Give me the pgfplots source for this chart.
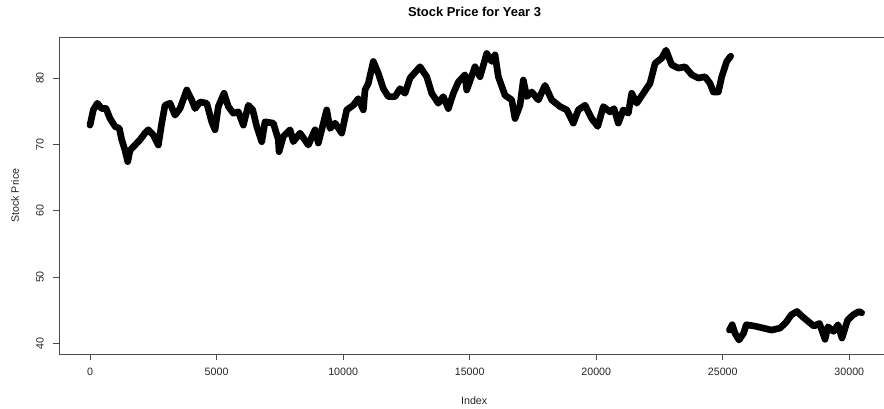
\documentclass[border=0pt]{standalone}
\usepackage{pgfplots}
\pgfplotsset{compat=1.18}
\usepackage{fontspec}
\setmainfont{Liberation Sans}
\begin{document}
\begin{tikzpicture}
\useasboundingbox (-44.5pt,-40.5pt) rectangle (618.5pt,265.5pt);
\begin{axis}[
  at={(0,0)}, anchor=south west,
  scale only axis, width=618.5pt, height=237.5pt,
  xmin=-1213, xmax=31371, ymin=38.39, ymax=86.14,
  axis x line=box, axis y line=left,
  axis line style={-, draw=black!70, line width=0.75pt},
  tick pos=left, tick align=outside, major tick length=4.5pt,
  tick style={black!70, line width=0.75pt},
  xtick={0,5000,10000,15000,20000,25000,30000},
  ytick={40,50,60,70,80},
  scaled x ticks=false,
  /pgf/number format/1000 sep={},
  /pgf/number format/assume math mode=true,
  ticklabel style={font=\fontsize{8}{9.6}\selectfont, text=black!85},
  xticklabel style={anchor=base, inner sep=0pt},
  xticklabel shift=11.5pt,
  yticklabel={\rotatebox{90}{\pgfmathprintnumber{\tick}}},
  yticklabel style={anchor=east, inner sep=0pt},
  yticklabel shift=7pt,
  xlabel={Index}, ylabel={Stock Price},
  label style={font=\fontsize{8}{9.6}\selectfont, text=black!85},
  xlabel style={at={(axis description cs:0.503,-0.1475)}, anchor=center},
  ylabel style={at={(axis description cs:-0.0537,0.5)}, anchor=center, rotate=0},
  title={Stock Price for Year 3},
  title style={font=\fontsize{9.7}{11}\selectfont\bfseries, at={(axis description cs:0.5035,1.0673)}, anchor=base, yshift=-6pt},
  clip=false,
]
\addplot[black, line width=5pt, line join=round, line cap=round] coordinates {
(0,72.9) (130,75.2) (288,76.2) (462,75.4) (632,75.4) (790,73.9) (988,72.7)
(1158,72.4) (1252,70.7) (1383,69.1) (1490,67.4) (1580,69.1) (1778,69.9)
(1976,70.7) (2173,71.7) (2303,72.2) (2501,71.4) (2699,69.9) (2833,73.2)
(2963,75.9) (3161,76.2) (3358,74.4) (3556,75.4) (3821,78.2) (4018,76.7)
(4149,75.4) (4346,76.4) (4611,76.2) (4808,73.4) (4939,72.2) (5069,75.7)
(5294,77.7) (5464,75.7) (5662,74.7) (5859,74.9) (6057,72.9) (6254,75.9)
(6428,75.2) (6586,72.7) (6784,70.4) (6914,73.4) (7242,73.2) (7440,70.7)
(7467,68.9) (7637,71.2) (7902,72.2) (8032,70.4) (8297,71.7) (8625,69.9)
(8890,72.2) (9020,70.2) (9352,75.2) (9482,72.4) (9680,73.2) (9945,71.7)
(10142,75.2) (10403,75.9) (10601,76.9) (10798,75.2) (10865,78.2) (10996,79.2)
(11193,82.5) (11391,80.7) (11589,78.4) (11786,77.2) (12051,77.2) (12248,78.4)
(12446,77.7) (12643,80.0) (13038,81.7) (13303,80.2) (13501,77.7) (13761,76.2)
(13959,77.2) (14157,75.4) (14354,77.7) (14552,79.4) (14816,80.5) (14883,78.2)
(15211,81.7) (15409,80.2) (15673,83.7) (15871,82.5) (16002,83.5) (16132,80.2)
(16397,77.4) (16662,76.7) (16792,73.9) (16989,75.9) (17120,79.7) (17254,77.2)
(17452,77.9) (17713,76.7) (17977,78.9) (18242,76.7) (18570,75.7) (18835,75.2)
(19095,73.2) (19293,75.2) (19558,75.9) (19822,73.9) (20059,72.7) (20281,75.7)
(20545,74.9) (20703,75.4) (20873,73.2) (21071,75.2) (21268,74.7) (21402,77.7)
(21600,76.2) (21861,77.7) (22126,79.2) (22323,82.2) (22588,83.0) (22758,84.2)
(22983,82.0) (23244,81.5) (23508,81.7) (23773,80.5) (24034,80.0) (24299,80.2)
(24497,79.2) (24627,77.9) (24825,77.9) (24959,80.2) (25156,82.5) (25314,83.3)
};
\addplot[black, line width=5pt, line join=round, line cap=round] coordinates {
(25263,42.0) (25374,42.8) (25485,41.5) (25641,40.5) (25819,41.5) (25930,42.8)
(26263,42.6) (26597,42.3) (26930,42.0) (27264,42.3) (27486,43.1) (27709,44.3)
(27931,44.8) (28153,44.0) (28376,43.3) (28598,42.6) (28820,43.0) (28931,41.8)
(29040,40.6) (29154,42.5) (29376,41.8) (29554,42.8) (29710,40.8) (29932,43.5)
(30154,44.3) (30377,44.8) (30488,44.6)
};
\end{axis}
\end{tikzpicture}
\end{document}
